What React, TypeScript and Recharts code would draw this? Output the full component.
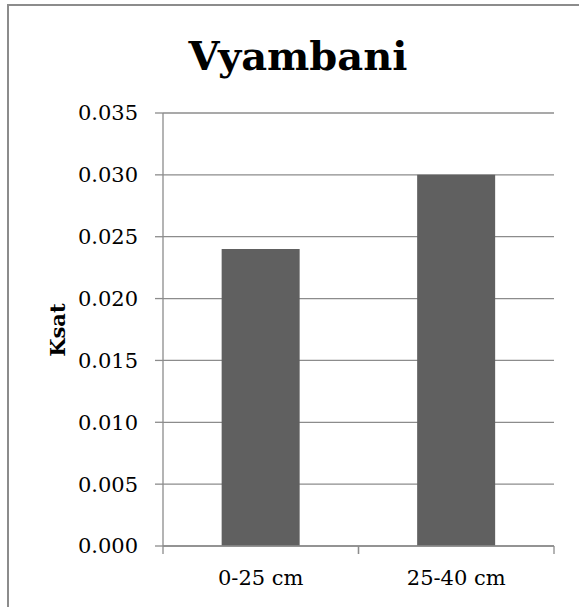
import React from "react";
import { BarChart, Bar, XAxis, YAxis, CartesianGrid, Label } from "recharts";

const categories = ["0-25 cm", "25-40 cm"];
const ksatValues = [0.024, 0.03];
const yTicks = [0, 0.005, 0.01, 0.015, 0.02, 0.025, 0.03, 0.035];

const data = categories.map((depth, i) => ({ depth, ksat: ksatValues[i] }));

const W = 579;
const H = 607;
const PLOT_LEFT = 163;
const PLOT_RIGHT = 554;
const PLOT_TOP = 113;
const PLOT_BOTTOM = 546;
const GRAY = "#8c8c8c";
const FONT = "DejaVu Serif, serif";

const bandHalf = (PLOT_RIGHT - PLOT_LEFT) / categories.length / 2;

const XTick = (props: any) => {
  const { x, payload } = props;
  return (
    <g>
      <line x1={x - bandHalf} x2={x - bandHalf} y1={PLOT_BOTTOM} y2={PLOT_BOTTOM + 8} stroke={GRAY} strokeWidth={1.3} />
      <line x1={x + bandHalf} x2={x + bandHalf} y1={PLOT_BOTTOM} y2={PLOT_BOTTOM + 8} stroke={GRAY} strokeWidth={1.3} />
      <text x={x} y={585} textAnchor="middle" fontFamily={FONT} fontSize={21} fill="#000">
        {payload.value}
      </text>
    </g>
  );
};

const App: React.FC = () => {
  return (
    <div style={{ position: "absolute", left: 0, top: 0, width: W, height: H, overflow: "hidden", background: "#fff", fontFamily: FONT }}>
      <div
        style={{
          position: "absolute",
          left: 7,
          top: 4,
          width: W + 20,
          height: H + 20,
          borderTop: `2px solid ${GRAY}`,
          borderLeft: `2px solid ${GRAY}`,
        }}
      />
      <div
        style={{
          position: "absolute",
          left: 8,
          width: 580,
          top: 31,
          textAlign: "center",
          fontFamily: FONT,
          fontWeight: "bold",
          fontSize: 40,
          lineHeight: "50px",
          color: "#000",
        }}
      >
        Vyambani
      </div>
      <div style={{ position: "absolute", left: 0, top: 0 }}>
        <BarChart
          width={W}
          height={H}
          data={data}
          margin={{ top: PLOT_TOP, right: W - PLOT_RIGHT, bottom: H - PLOT_BOTTOM - 50, left: 0 }}
          barCategoryGap="30%"
        >
          <CartesianGrid vertical={false} stroke={GRAY} strokeWidth={1.3} />
          <XAxis
            dataKey="depth"
            height={50}
            axisLine={{ stroke: GRAY, strokeWidth: 1.3 }}
            tickLine={false}
            tick={<XTick />}
            interval={0}
          />
          <YAxis
            width={PLOT_LEFT}
            domain={[0, 0.035]}
            ticks={yTicks}
            tickFormatter={(v: number) => v.toFixed(3)}
            axisLine={{ stroke: GRAY, strokeWidth: 1.3 }}
            tickLine={{ stroke: GRAY, strokeWidth: 1.3 }}
            tickSize={8}
            tickMargin={17}
            tick={{ fontFamily: FONT, fontSize: 21, fill: "#000" }}
          >
            <Label
              content={() => (
                <text
                  x={57}
                  y={330}
                  transform="rotate(-90 57 330)"
                  textAnchor="middle"
                  dominantBaseline="central"
                  fontFamily={FONT}
                  fontWeight="bold"
                  fontSize={21}
                  fill="#000"
                >
                  Ksat
                </text>
              )}
            />
          </YAxis>
          <Bar dataKey="ksat" fill="#606060" isAnimationActive={false} />
        </BarChart>
      </div>
    </div>
  );
};

export default App;
